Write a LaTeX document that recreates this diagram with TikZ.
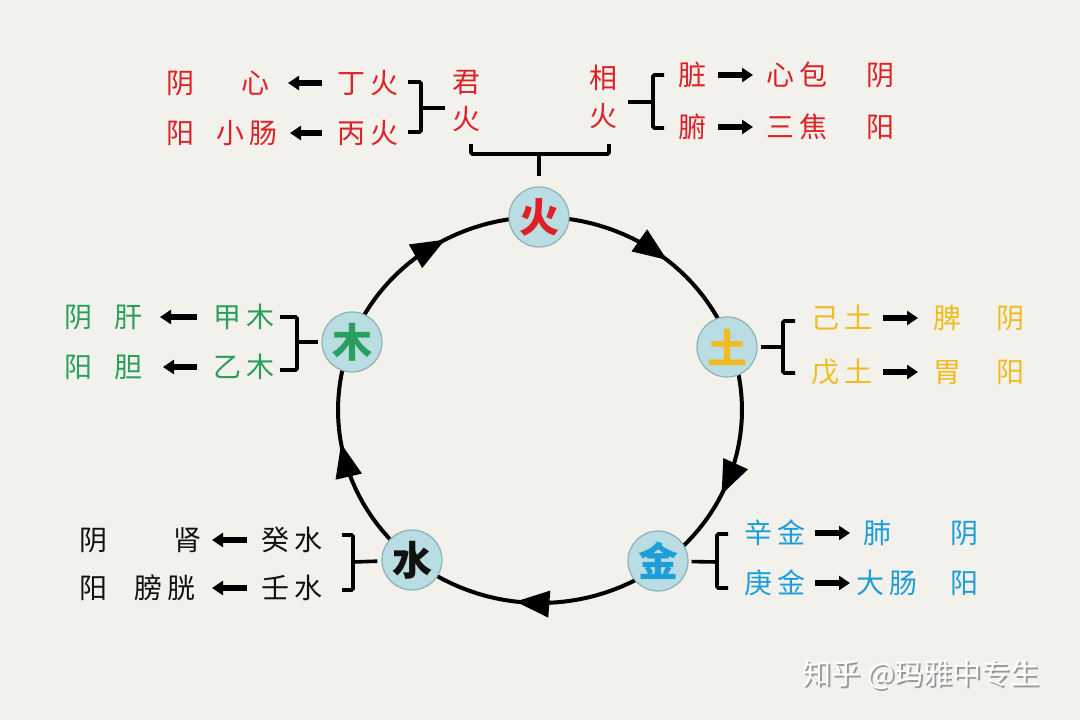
\documentclass[tikz,border=0pt]{standalone}
\usepackage{fontspec}
\newfontfamily\cjk{Noto Sans CJK SC}
\usetikzlibrary{arrows.meta}
\definecolor{bg}{HTML}{F3F1EC}
\definecolor{cred}{HTML}{DE2027}
\definecolor{cgreen}{HTML}{2A9E5C}
\definecolor{cgold}{HTML}{F0BC22}
\definecolor{cblue}{HTML}{1E9ED8}
\definecolor{cblack}{HTML}{111111}
\definecolor{nodefill}{HTML}{BADDE3}
\definecolor{nodeborder}{HTML}{8DB1B8}
\definecolor{wmshadow}{HTML}{9A9A9A}
\newcommand\gp{\hspace{6pt}}
\tikzset{
  lbl/.style={font=\cjk\fontsize{28}{28}\selectfont, inner sep=0pt, text height=23pt, text depth=1.7pt},
  elem/.style={circle, draw=nodeborder, line width=1.2pt, fill=nodefill, minimum size=60pt, inner sep=0pt,
     font=\cjk\bfseries\fontsize{40}{40}\selectfont},
  larr/.style={line width=5.5pt, -{Triangle[length=11pt,width=14pt]}},
  brk/.style={line width=3.6pt, rounded corners=1.5pt},
  ringline/.style={line width=4pt},
  ringtip/.style={line width=4pt, -{Triangle[length=34pt,width=26pt]}}
}
\begin{document}
\begin{tikzpicture}[x=1pt,y=-1pt]
\fill[bg] (0,0) rectangle (1080,720);
\useasboundingbox (0,0) rectangle (1080,720);

% ring segments between element nodes
\draw[ringline] plot[domain=270:340.5, samples=30] ({540+202*cos(\x)},{410+193*sin(\x)});
\draw[ringline] plot[domain=340.5:413, samples=30] ({540+202*cos(\x)},{410+193*sin(\x)});
\draw[ringline] plot[domain=53:129, samples=30] ({540+202*cos(\x)},{410+193*sin(\x)});
\draw[ringline] plot[domain=129:200.5, samples=30] ({540+202*cos(\x)},{410+193*sin(\x)});
\draw[ringline] plot[domain=200.5:270, samples=30] ({540+202*cos(\x)},{410+193*sin(\x)});
% arrowheads on the ring
\draw[ringtip] plot[domain=232:242, samples=3] ({540+202*cos(\x)},{410+193*sin(\x)});
\draw[ringtip] plot[domain=299:309, samples=3] ({540+202*cos(\x)},{410+193*sin(\x)});
\draw[ringtip] plot[domain=16:26, samples=3] ({540+202*cos(\x)},{410+193*sin(\x)});
\draw[ringtip] plot[domain=87:97, samples=3] ({540+202*cos(\x)},{410+193*sin(\x)});
\draw[ringtip] plot[domain=160:170, samples=3] ({540+202*cos(\x)},{410+193*sin(\x)});

% element nodes
\node[elem, text=cred]   (huo)  at (539,217) {火};
\node[elem, text=cgold]  (tu)   at (727,347) {土};
\node[elem, text=cblue]  (jin)  at (658,561) {金};
\node[elem, text=cblack] (shui) at (412,560) {水};
\node[elem, text=cgreen] (mu)   at (352,342) {木};

% ---- fire group (red)
\begin{scope}[every node/.style={lbl, text=cred}]
\node (yinA)  at (180,83)  {阴};
\node (xin)   at (255,83)  {心};
\node (ding)  at (368,83)  {丁\gp 火};
\node (yangA) at (180,133) {阳};
\node (xch)   at (247,133) {小\gp 肠};
\node (bing)  at (368,133) {丙\gp 火};
\node (jun)   at (466,82)  {君};
\node (junh)  at (466,119) {火};
\node (xiang) at (603,78)  {相};
\node (xiangh) at (603,116) {火};
\node (zang)  at (692,75)  {脏};
\node (xinbao) at (797,75) {心\gp 包};
\node (yinB)  at (880,75)  {阴};
\node (fu)    at (692,127) {腑};
\node (sanjiao) at (797,127) {三\gp 焦};
\node (yangB) at (880,127) {阳};
\end{scope}
\draw[larr, shorten <=46pt, shorten >=33pt] (ding.center) -- (xin.center);
\draw[larr, shorten <=46pt, shorten >=43pt] (bing.center) -- (xch.center);
\draw[larr, shorten <=26pt, shorten >=44pt] (zang.center) -- (xinbao.center);
\draw[larr, shorten <=26pt, shorten >=44pt] (fu.center) -- (sanjiao.center);
\draw[brk] (408,82) -- (421,82) -- (421,132) -- (408,132);
\draw[brk] (421,108) -- (445,108);
\draw[brk] (664,75) -- (653,75) -- (653,128) -- (664,128);
\draw[brk] (653,102) -- (628,102);
\draw[brk] (471,144) -- (471,154) -- (609,154) -- (609,144);
\draw[brk] (539,154) -- (539,176);

% ---- wood group (green)
\begin{scope}[every node/.style={lbl, text=cgreen}]
\node (yinC)  at (78,317)  {阴};
\node (gan)   at (128,317) {肝};
\node (jiamu) at (244,317) {甲\gp 木};
\node (yangC) at (78,367)  {阳};
\node (dan)   at (128,367) {胆};
\node (yimu)  at (244,367) {乙\gp 木};
\end{scope}
\draw[larr, shorten <=47pt, shorten >=32pt] (jiamu.center) -- (gan.center);
\draw[larr, shorten <=47pt, shorten >=35pt] (yimu.center) -- (dan.center);
\draw[brk] (280,317) -- (297,317) -- (297,370) -- (280,370);
\draw[brk, shorten >=3pt] (297,342) -- (mu);

% ---- earth group (gold)
\begin{scope}[every node/.style={lbl, text=cgold}]
\node (jitu)  at (842,318)  {己\gp 土};
\node (pi)    at (947,318)  {脾};
\node (yinD)  at (1010,318) {阴};
\node (wutu)  at (842,372)  {戊\gp 土};
\node (wei)   at (947,372)  {胃};
\node (yangD) at (1010,372) {阳};
\end{scope}
\draw[larr, shorten <=41pt, shorten >=29pt] (jitu.center) -- (pi.center);
\draw[larr, shorten <=41pt, shorten >=29pt] (wutu.center) -- (wei.center);
\draw[brk] (795,321) -- (783,321) -- (783,373) -- (795,373);
\draw[brk, shorten >=3pt] (783,347) -- (tu);

% ---- water group (black)
\begin{scope}[every node/.style={lbl, text=cblack}]
\node (yinE)  at (93,540)  {阴};
\node (shen)  at (187,540) {肾};
\node (gui)   at (292,540) {癸\gp 水};
\node (yangE) at (93,588)  {阳};
\node (pg)    at (165,588) {膀\gp 胱};
\node (ren)   at (292,588) {壬\gp 水};
\end{scope}
\draw[larr, shorten <=45pt, shorten >=25pt] (gui.center) -- (shen.center);
\draw[larr, shorten <=45pt, shorten >=47pt] (ren.center) -- (pg.center);
\draw[brk] (342,535) -- (353,535) -- (353,590) -- (342,590);
\draw[brk, shorten >=4pt] (353,562) -- (shui);

% ---- metal group (blue)
\begin{scope}[every node/.style={lbl, text=cblue}]
\node (xinjin) at (775,533) {辛\gp 金};
\node (fei)    at (877,533) {肺};
\node (yinF)   at (964,533) {阴};
\node (geng)   at (775,583) {庚\gp 金};
\node (dach)   at (887,583) {大\gp 肠};
\node (yangF)  at (964,583) {阳};
\end{scope}
\draw[larr, shorten <=40pt, shorten >=27pt] (xinjin.center) -- (fei.center);
\draw[larr, shorten <=40pt, shorten >=37pt] (geng.center) -- (dach.center);
\draw[brk] (728,534) -- (717,534) -- (717,588) -- (728,588);
\draw[brk, shorten >=3pt] (717,562) -- (jin);

% watermark
\node[font=\cjk\fontsize{29}{29}\selectfont, text=wmshadow] (wms) at (923,677) {知乎 @玛雅中专生};
\node[font=\cjk\fontsize{29}{29}\selectfont, text=white] (wm) at (921,675) {知乎 @玛雅中专生};
\end{tikzpicture}
\end{document}
